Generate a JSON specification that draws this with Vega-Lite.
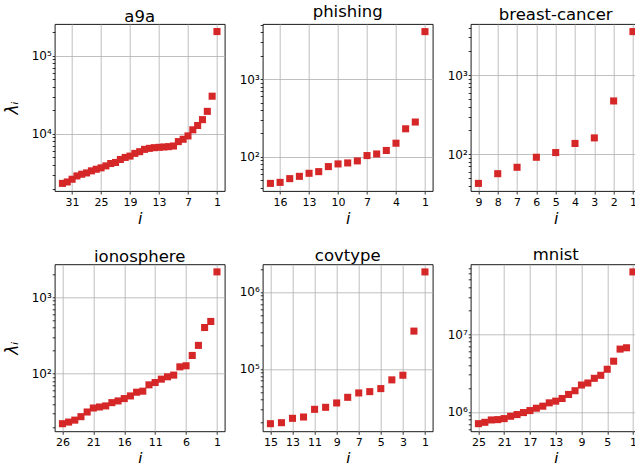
{
  "$schema": "https://vega.github.io/schema/vega-lite/v6.json",
  "padding": {"left": 1.7, "top": 3, "right": 0, "bottom": 0},
  "background": "white",
  "data": {"values": [
    {"ds":"a9a","i":1,"lam":203000},{"ds":"a9a","i":2,"lam":30300},{"ds":"a9a","i":3,"lam":19400},{"ds":"a9a","i":4,"lam":15200},
    {"ds":"a9a","i":5,"lam":12800},{"ds":"a9a","i":6,"lam":11270},{"ds":"a9a","i":7,"lam":9420},{"ds":"a9a","i":8,"lam":8530},
    {"ds":"a9a","i":9,"lam":7960},{"ds":"a9a","i":10,"lam":7000},{"ds":"a9a","i":11,"lam":6870},{"ds":"a9a","i":12,"lam":6800},
    {"ds":"a9a","i":13,"lam":6730},{"ds":"a9a","i":14,"lam":6660},{"ds":"a9a","i":15,"lam":6530},{"ds":"a9a","i":16,"lam":6340},
    {"ds":"a9a","i":17,"lam":5920},{"ds":"a9a","i":18,"lam":5630},{"ds":"a9a","i":19,"lam":5200},{"ds":"a9a","i":20,"lam":5000},
    {"ds":"a9a","i":21,"lam":4710},{"ds":"a9a","i":22,"lam":4310},{"ds":"a9a","i":23,"lam":4180},{"ds":"a9a","i":24,"lam":3900},
    {"ds":"a9a","i":25,"lam":3680},{"ds":"a9a","i":26,"lam":3530},{"ds":"a9a","i":27,"lam":3370},{"ds":"a9a","i":28,"lam":3170},
    {"ds":"a9a","i":29,"lam":3050},{"ds":"a9a","i":30,"lam":2900},{"ds":"a9a","i":31,"lam":2630},{"ds":"a9a","i":32,"lam":2430},
    {"ds":"a9a","i":33,"lam":2330},
    {"ds":"phishing","i":1,"lam":4093},{"ds":"phishing","i":2,"lam":281},{"ds":"phishing","i":3,"lam":230},{"ds":"phishing","i":4,"lam":150},
    {"ds":"phishing","i":5,"lam":121},{"ds":"phishing","i":6,"lam":109},{"ds":"phishing","i":7,"lam":104},{"ds":"phishing","i":8,"lam":88.8},
    {"ds":"phishing","i":9,"lam":83.6},{"ds":"phishing","i":10,"lam":81.2},{"ds":"phishing","i":11,"lam":75},{"ds":"phishing","i":12,"lam":64.6},
    {"ds":"phishing","i":13,"lam":61.5},{"ds":"phishing","i":14,"lam":56.2},{"ds":"phishing","i":15,"lam":52.5},{"ds":"phishing","i":16,"lam":47},
    {"ds":"phishing","i":17,"lam":45.6},
    {"ds":"breast-cancer","i":1,"lam":3556},{"ds":"breast-cancer","i":2,"lam":472},{"ds":"breast-cancer","i":3,"lam":161},
    {"ds":"breast-cancer","i":4,"lam":137},{"ds":"breast-cancer","i":5,"lam":105},{"ds":"breast-cancer","i":6,"lam":91.6},
    {"ds":"breast-cancer","i":7,"lam":68.4},{"ds":"breast-cancer","i":8,"lam":56.8},{"ds":"breast-cancer","i":9,"lam":42.8},
    {"ds":"ionosphere","i":1,"lam":2133},{"ds":"ionosphere","i":2,"lam":479},{"ds":"ionosphere","i":3,"lam":399},{"ds":"ionosphere","i":4,"lam":233},
    {"ds":"ionosphere","i":5,"lam":172},{"ds":"ionosphere","i":6,"lam":126},{"ds":"ionosphere","i":7,"lam":122},{"ds":"ionosphere","i":8,"lam":95.1},
    {"ds":"ionosphere","i":9,"lam":90.4},{"ds":"ionosphere","i":10,"lam":84.2},{"ds":"ionosphere","i":11,"lam":76.1},{"ds":"ionosphere","i":12,"lam":70.9},
    {"ds":"ionosphere","i":13,"lam":58.6},{"ds":"ionosphere","i":14,"lam":56.8},{"ds":"ionosphere","i":15,"lam":50.8},{"ds":"ionosphere","i":16,"lam":46.9},
    {"ds":"ionosphere","i":17,"lam":43.7},{"ds":"ionosphere","i":18,"lam":41.5},{"ds":"ionosphere","i":19,"lam":37.6},{"ds":"ionosphere","i":20,"lam":36.4},
    {"ds":"ionosphere","i":21,"lam":35.3},{"ds":"ionosphere","i":22,"lam":31.3},{"ds":"ionosphere","i":23,"lam":27.2},{"ds":"ionosphere","i":24,"lam":24.5},
    {"ds":"ionosphere","i":25,"lam":23.1},{"ds":"ionosphere","i":26,"lam":22},
    {"ds":"covtype","i":1,"lam":1824000},{"ds":"covtype","i":2,"lam":309900},{"ds":"covtype","i":3,"lam":82650},{"ds":"covtype","i":4,"lam":71930},
    {"ds":"covtype","i":5,"lam":55380},{"ds":"covtype","i":6,"lam":50590},{"ds":"covtype","i":7,"lam":48640},{"ds":"covtype","i":8,"lam":42660},
    {"ds":"covtype","i":9,"lam":36030},{"ds":"covtype","i":10,"lam":31620},{"ds":"covtype","i":11,"lam":29770},{"ds":"covtype","i":12,"lam":23650},
    {"ds":"covtype","i":13,"lam":22740},{"ds":"covtype","i":14,"lam":19950},{"ds":"covtype","i":15,"lam":19360},
    {"ds":"mnist","i":1,"lam":62700000},{"ds":"mnist","i":2,"lam":6657000},{"ds":"mnist","i":3,"lam":6400000},{"ds":"mnist","i":4,"lam":4477000},
    {"ds":"mnist","i":5,"lam":3527000},{"ds":"mnist","i":6,"lam":2951000},{"ds":"mnist","i":7,"lam":2699000},{"ds":"mnist","i":8,"lam":2349000},
    {"ds":"mnist","i":9,"lam":2213000},{"ds":"mnist","i":10,"lam":1870000},{"ds":"mnist","i":11,"lam":1675000},{"ds":"mnist","i":12,"lam":1486000},
    {"ds":"mnist","i":13,"lam":1374000},{"ds":"mnist","i":14,"lam":1307000},{"ds":"mnist","i":15,"lam":1184000},{"ds":"mnist","i":16,"lam":1115000},
    {"ds":"mnist","i":17,"lam":1040000},{"ds":"mnist","i":18,"lam":980000},{"ds":"mnist","i":19,"lam":924000},{"ds":"mnist","i":20,"lam":879000},
    {"ds":"mnist","i":21,"lam":820000},{"ds":"mnist","i":22,"lam":796000},{"ds":"mnist","i":23,"lam":788000},{"ds":"mnist","i":24,"lam":735000},
    {"ds":"mnist","i":25,"lam":706000}
  ]},
  "config": {
    "font": "DejaVu Sans",
    "view": {"stroke": "black", "strokeWidth": 0.9},
    "axis": {
      "domain": false,
      "grid": true,
      "gridColor": "#b0b0b0",
      "gridWidth": 0.8,
      "tickColor": "black",
      "tickWidth": 0.8,
      "labelColor": "black",
      "labelFont": "DejaVu Sans",
      "labelFontSize": 11,
      "labelOverlap": false,
      "labelFlush": false,
      "labelBound": false,
      "titleFont": "DejaVu Sans",
      "titleFontWeight": "normal",
      "titleColor": "black",
      "titleFontSize": 16
    },
    "axisX": {"tickSize": 3, "labelPadding": 2, "titlePadding": 3, "titleFontStyle": "italic"},
    "axisY": {"tickSize": 2.5, "labelPadding": 1, "labelFontSize": 12, "titlePadding": 10, "titleFontStyle": "italic", "titleFontSize": 17},
    "title": {"font": "DejaVu Sans", "fontSize": 16.5, "fontWeight": "normal", "color": "black", "offset": -1.5},
    "square": {"size": 50, "color": "#d62728", "opacity": 1}
  },
  "columns": 3,
  "spacing": {"row": 73.3, "column": 38},
  "bounds": "flush",
  "concat": [
    {
      "title": "a9a", "width": 170, "height": 167,
      "transform": [{"filter": "datum.ds === 'a9a'"}],
      "mark": {"type": "square"},
      "encoding": {
        "x": {"field": "i", "type": "quantitative", "scale": {"domain": [-0.6, 34.6], "reverse": true, "nice": false, "zero": false}, "axis": {"values": [31, 25, 19, 13, 7, 1], "title": "i"}},
        "y": {"field": "lam", "type": "quantitative", "scale": {"type": "log", "domain": [1862, 253500], "nice": false},
          "axis": {"title": "λᵢ", "values": [2000,3000,4000,5000,6000,7000,8000,9000,10000,20000,30000,40000,50000,60000,70000,80000,90000,100000,200000],
            "labelExpr": "abs(log(datum.value)/LN10 - round(log(datum.value)/LN10)) < 0.001 ? '10' + ['⁰','¹','²','³','⁴','⁵','⁶','⁷','⁸','⁹'][round(log(datum.value)/LN10)] : ''",
            "gridOpacity": {"condition": {"test": "abs(log(datum.value)/LN10 - round(log(datum.value)/LN10)) < 0.001", "value": 1}, "value": 0}}}
      }
    },
    {
      "title": "phishing", "width": 170, "height": 167,
      "transform": [{"filter": "datum.ds === 'phishing'"}],
      "mark": {"type": "square"},
      "encoding": {
        "x": {"field": "i", "type": "quantitative", "scale": {"domain": [0.2, 17.8], "reverse": true, "nice": false, "zero": false}, "axis": {"values": [16, 13, 10, 7, 4, 1], "title": "i"}},
        "y": {"field": "lam", "type": "quantitative", "scale": {"type": "log", "domain": [36.4, 5129], "nice": false},
          "axis": {"title": null, "values": [40,50,60,70,80,90,100,200,300,400,500,600,700,800,900,1000,2000,3000,4000,5000],
            "labelExpr": "abs(log(datum.value)/LN10 - round(log(datum.value)/LN10)) < 0.001 ? '10' + ['⁰','¹','²','³','⁴','⁵','⁶','⁷','⁸','⁹'][round(log(datum.value)/LN10)] : ''",
            "gridOpacity": {"condition": {"test": "abs(log(datum.value)/LN10 - round(log(datum.value)/LN10)) < 0.001", "value": 1}, "value": 0}}}
      }
    },
    {
      "title": "breast-cancer", "width": 170, "height": 167,
      "transform": [{"filter": "datum.ds === 'breast-cancer'"}],
      "mark": {"type": "square"},
      "encoding": {
        "x": {"field": "i", "type": "quantitative", "scale": {"domain": [0.6, 9.4], "reverse": true, "nice": false, "zero": false}, "axis": {"values": [9, 8, 7, 6, 5, 4, 3, 2, 1], "title": "i"}},
        "y": {"field": "lam", "type": "quantitative", "scale": {"type": "log", "domain": [34.3, 4436], "nice": false},
          "axis": {"title": null, "values": [40,50,60,70,80,90,100,200,300,400,500,600,700,800,900,1000,2000,3000,4000],
            "labelExpr": "abs(log(datum.value)/LN10 - round(log(datum.value)/LN10)) < 0.001 ? '10' + ['⁰','¹','²','³','⁴','⁵','⁶','⁷','⁸','⁹'][round(log(datum.value)/LN10)] : ''",
            "gridOpacity": {"condition": {"test": "abs(log(datum.value)/LN10 - round(log(datum.value)/LN10)) < 0.001", "value": 1}, "value": 0}}}
      }
    },
    {
      "title": "ionosphere", "width": 170, "height": 167,
      "transform": [{"filter": "datum.ds === 'ionosphere'"}],
      "mark": {"type": "square"},
      "encoding": {
        "x": {"field": "i", "type": "quantitative", "scale": {"domain": [-0.25, 27.25], "reverse": true, "nice": false, "zero": false}, "axis": {"values": [26, 21, 16, 11, 6, 1], "title": "i"}},
        "y": {"field": "lam", "type": "quantitative", "scale": {"type": "log", "domain": [17.5, 2680], "nice": false},
          "axis": {"title": "λᵢ", "values": [20,30,40,50,60,70,80,90,100,200,300,400,500,600,700,800,900,1000,2000],
            "labelExpr": "abs(log(datum.value)/LN10 - round(log(datum.value)/LN10)) < 0.001 ? '10' + ['⁰','¹','²','³','⁴','⁵','⁶','⁷','⁸','⁹'][round(log(datum.value)/LN10)] : ''",
            "gridOpacity": {"condition": {"test": "abs(log(datum.value)/LN10 - round(log(datum.value)/LN10)) < 0.001", "value": 1}, "value": 0}}}
      }
    },
    {
      "title": "covtype", "width": 170, "height": 167,
      "transform": [{"filter": "datum.ds === 'covtype'"}],
      "mark": {"type": "square"},
      "encoding": {
        "x": {"field": "i", "type": "quantitative", "scale": {"domain": [0.3, 15.7], "reverse": true, "nice": false, "zero": false}, "axis": {"values": [15, 13, 11, 9, 7, 5, 3, 1], "title": "i"}},
        "y": {"field": "lam", "type": "quantitative", "scale": {"type": "log", "domain": [15420, 2291000], "nice": false},
          "axis": {"title": null, "values": [20000,30000,40000,50000,60000,70000,80000,90000,100000,200000,300000,400000,500000,600000,700000,800000,900000,1000000,2000000],
            "labelExpr": "abs(log(datum.value)/LN10 - round(log(datum.value)/LN10)) < 0.001 ? '10' + ['⁰','¹','²','³','⁴','⁵','⁶','⁷','⁸','⁹'][round(log(datum.value)/LN10)] : ''",
            "gridOpacity": {"condition": {"test": "abs(log(datum.value)/LN10 - round(log(datum.value)/LN10)) < 0.001", "value": 1}, "value": 0}}}
      }
    },
    {
      "title": "mnist", "width": 170, "height": 167,
      "transform": [{"filter": "datum.ds === 'mnist'"}],
      "mark": {"type": "square"},
      "encoding": {
        "x": {"field": "i", "type": "quantitative", "scale": {"domain": [-0.2, 26.2], "reverse": true, "nice": false, "zero": false}, "axis": {"values": [25, 21, 17, 13, 9, 5, 1], "title": "i"}},
        "y": {"field": "lam", "type": "quantitative", "scale": {"type": "log", "domain": [563600, 78520000], "nice": false},
          "axis": {"title": null, "values": [600000,700000,800000,900000,1000000,2000000,3000000,4000000,5000000,6000000,7000000,8000000,9000000,10000000,20000000,30000000,40000000,50000000,60000000,70000000],
            "labelExpr": "abs(log(datum.value)/LN10 - round(log(datum.value)/LN10)) < 0.001 ? '10' + ['⁰','¹','²','³','⁴','⁵','⁶','⁷','⁸','⁹'][round(log(datum.value)/LN10)] : ''",
            "gridOpacity": {"condition": {"test": "abs(log(datum.value)/LN10 - round(log(datum.value)/LN10)) < 0.001", "value": 1}, "value": 0}}}
      }
    }
  ]
}
